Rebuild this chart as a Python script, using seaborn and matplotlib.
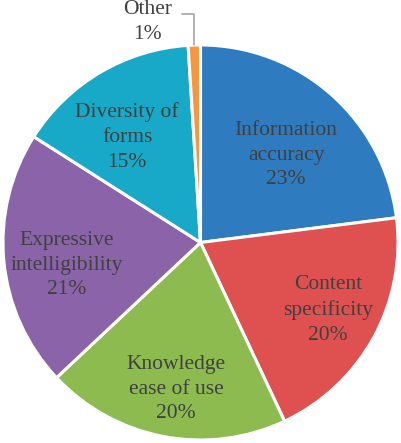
import numpy as np
import matplotlib
matplotlib.use("Agg")
import matplotlib.pyplot as plt
import seaborn as sns

categories = ["Information\naccuracy", "Content\nspecificity", "Knowledge\nease of use",
              "Expressive\nintelligibility", "Diversity of\nforms", "Other"]
shares = [23, 20, 20, 21, 15, 1]

colors = ["#2E7BC0", "#DF5050", "#8DBB4F", "#8B63A8", "#17A9C7", "#F7963F"]
# label centres inside the pie (data units, radius = 1)
label_pos = [(0.433, 0.443), (0.646, -0.342), (-0.124, -0.742),
             (-0.676, -0.114), (-0.372, 0.534), (-0.266, 1.115)]

sns.set_theme(style="white")
plt.rcParams["font.family"] = ["Liberation Serif", "DejaVu Serif"]

fig = plt.figure(figsize=(4.01, 4.43), dpi=100)
ax = fig.add_axes([0, 0, 1, 1])
wedges, _ = ax.pie(shares, colors=sns.color_palette(colors), startangle=90, counterclock=False,
                   wedgeprops=dict(edgecolor="white", linewidth=2.2))
ax.set_aspect("equal")
ax.set_xlim(-1.0152, 1.0152)
ax.set_ylim(-1.0152, 1.2278)
ax.axis("off")

txt = "#404040"
for name, val, (x, y) in zip(categories, shares, label_pos):
    ax.text(x, y, f"{name}\n{val}%", ha="center", va="center", fontsize=15.5,
            color=txt, linespacing=1.4)

# leader line for the tiny slice
w = wedges[-1]
theta = np.deg2rad((w.theta1 + w.theta2) / 2)
ex, ey = np.cos(theta), np.sin(theta)
ax.plot([ex - 0.06, ex, ex], [1.157, 1.157, ey], color="#a6a6a6", lw=1.2)

fig.savefig("out.png", dpi=100)
